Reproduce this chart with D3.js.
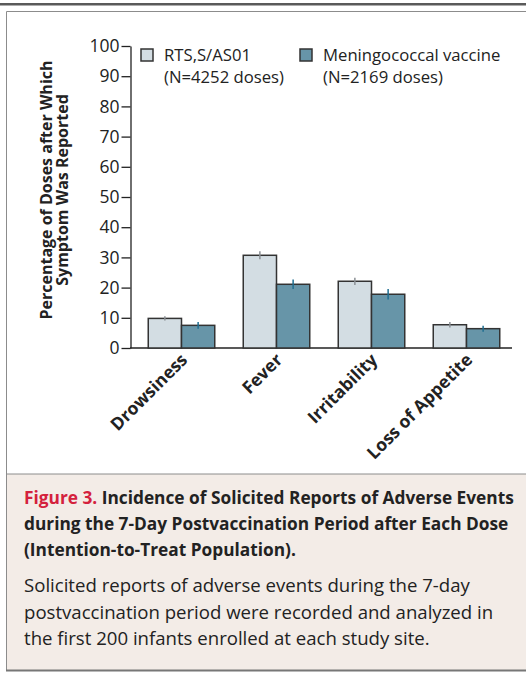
<!DOCTYPE html>
<html lang="en">
<head>
    <meta charset="UTF-8">
    <title>Figure 3 - Solicited Adverse Events</title>
    <script src="https://d3js.org/d3.v7.min.js"></script>
    <style>
        body { margin: 0; background: #fff; }
        svg { display: block; font-family: "Open Sans", sans-serif; }
    </style>
</head>
<body>
    <div id="chart"></div>
    <script>
        // data
        const categories = ["Drowsiness", "Fever", "Irritability", "Loss of Appetite"];
        const seriesNames = ["RTS,S/AS01", "Meningococcal vaccine"];
        const seriesN = ["(N=4252 doses)", "(N=2169 doses)"];
        const rtsValues = [9.8, 30.7, 22.1, 7.7];
        const rtsErr = [0.7, 1.3, 1.2, 0.9];
        const menValues = [7.5, 21.1, 17.8, 6.4];
        const menErr = [1.1, 1.6, 1.7, 1.0];
        const yTicks = [0, 10, 20, 30, 40, 50, 60, 70, 80, 90, 100];

        const fills = ["#d3dde3", "#6795a8"];
        const errColors = ["#8a8f94", "#1f6e90"];

        const width = 526, height = 673;

        const svg = d3.select("#chart").append("svg")
            .attr("width", width)
            .attr("height", height);

        // frame + top rule
        svg.append("rect").attr("x", 0).attr("y", 3).attr("width", width).attr("height", 2.5).attr("fill", "#5a5a5a");
        svg.append("rect").attr("x", 7).attr("y", 474).attr("width", width).attr("height", 196).attr("fill", "#f3ece7");
        svg.append("line").attr("x1", 6.5).attr("x2", width).attr("y1", 11.5).attr("y2", 11.5).attr("stroke", "#8c8c8c");
        svg.append("line").attr("x1", 6.5).attr("x2", 6.5).attr("y1", 11.5).attr("y2", 670).attr("stroke", "#8c8c8c");
        svg.append("line").attr("x1", 6.5).attr("x2", width).attr("y1", 474).attr("y2", 474).attr("stroke", "#8c8c8c");
        svg.append("line").attr("x1", 6).attr("x2", width).attr("y1", 670.5).attr("y2", 670.5).attr("stroke", "#777").attr("stroke-width", 2);

        // scales
        const y = d3.scaleLinear().domain([0, 100]).range([348, 46]);
        const x0 = d3.scaleBand().domain(categories).range([134, 514]).paddingInner(0.3).paddingOuter(0.15);
        const x1 = d3.scaleBand().domain([0, 1]).range([0, x0.bandwidth()]);

        // y axis
        const yAxis = svg.append("g")
            .attr("transform", "translate(130.5,0)")
            .call(d3.axisLeft(y).tickValues(yTicks).tickSize(9).tickPadding(2).tickSizeOuter(0));
        yAxis.select(".domain").attr("stroke", "#222").attr("stroke-width", 1.3);
        yAxis.selectAll(".tick line").attr("stroke", "#222").attr("stroke-width", 1.3);
        yAxis.selectAll("text").attr("font-size", 17.5).attr("fill", "#222").attr("font-family", "Open Sans");

        // x axis line
        svg.append("line")
            .attr("x1", 130).attr("x2", 512)
            .attr("y1", y(0)).attr("y2", y(0))
            .attr("stroke", "#222").attr("stroke-width", 1.3);

        // y title
        const yTitle = svg.append("text")
            .attr("transform", "translate(54,190) rotate(-90)")
            .attr("text-anchor", "middle")
            .attr("font-weight", "bold")
            .attr("font-size", 16)
            .attr("fill", "#222");
        yTitle.append("tspan").attr("x", 0).attr("y", -2).text("Percentage of Doses after Which");
        yTitle.append("tspan").attr("x", 0).attr("y", 14).text("Symptom Was Reported");

        // bars
        const rows = categories.map((c, i) => ({
            cat: c,
            vals: [
                { s: 0, v: rtsValues[i], e: rtsErr[i] },
                { s: 1, v: menValues[i], e: menErr[i] }
            ]
        }));

        const groups = svg.append("g").selectAll("g")
            .data(rows)
            .join("g")
            .attr("transform", d => `translate(${x0(d.cat)},0)`);

        groups.selectAll("rect")
            .data(d => d.vals)
            .join("rect")
            .attr("x", d => x1(d.s))
            .attr("y", d => y(d.v))
            .attr("width", x1.bandwidth())
            .attr("height", d => y(0) - y(d.v))
            .attr("fill", d => fills[d.s])
            .attr("stroke", "#333")
            .attr("stroke-width", 1.5);

        groups.selectAll("line.err")
            .data(d => d.vals)
            .join("line")
            .attr("class", "err")
            .attr("x1", d => x1(d.s) + x1.bandwidth() / 2)
            .attr("x2", d => x1(d.s) + x1.bandwidth() / 2)
            .attr("y1", d => y(d.v + d.e))
            .attr("y2", d => y(d.v - d.e))
            .attr("stroke", d => errColors[d.s])
            .attr("stroke-width", 1.5);

        // category labels
        svg.append("g").selectAll("text")
            .data(categories)
            .join("text")
            .attr("transform", d => `translate(${x0(d) + x0.bandwidth() / 2 + 7},361) rotate(-45)`)
            .attr("text-anchor", "end")
            .attr("font-weight", "bold")
            .attr("font-size", 17.5)
            .attr("fill", "#222")
            .text(d => d);

        // legend
        const legendX = [141, 300];
        const legend = svg.append("g").selectAll("g")
            .data(seriesNames)
            .join("g")
            .attr("transform", (d, i) => `translate(${legendX[i]},49)`);
        legend.append("rect")
            .attr("width", 12).attr("height", 12)
            .attr("fill", (d, i) => fills[i])
            .attr("stroke", "#333").attr("stroke-width", 1.5);
        legend.append("text")
            .attr("x", 23).attr("y", 12)
            .attr("font-size", 16.7).attr("fill", "#222")
            .text(d => d);
        legend.append("text")
            .attr("x", 23).attr("y", 34)
            .attr("font-size", 16.7).attr("fill", "#222")
            .text((d, i) => seriesN[i]);

        // caption
        const capTitle = [
            [{ t: "Figure 3. ", c: "#d4213d" }, { t: "Incidence of Solicited Reports of Adverse Events", c: "#222" }],
            [{ t: "during the 7-Day Postvaccination Period after Each Dose", c: "#222" }],
            [{ t: "(Intention-to-Treat Population).", c: "#222" }]
        ];
        const capBody = [
            "Solicited reports of adverse events during the 7-day",
            "postvaccination period were recorded and analyzed in",
            "the first 200 infants enrolled at each study site."
        ];
        capTitle.forEach((line, i) => {
            const t = svg.append("text")
                .attr("x", 24).attr("y", 504 + i * 26)
                .attr("font-weight", "bold").attr("font-size", 17.3);
            line.forEach(p => t.append("tspan").attr("fill", p.c).text(p.t));
        });
        capBody.forEach((line, i) => {
            svg.append("text")
                .attr("x", 24).attr("y", 592 + i * 26.5)
                .attr("font-size", 18.6).attr("fill", "#222")
                .text(line);
        });
    </script>
</body>
</html>
